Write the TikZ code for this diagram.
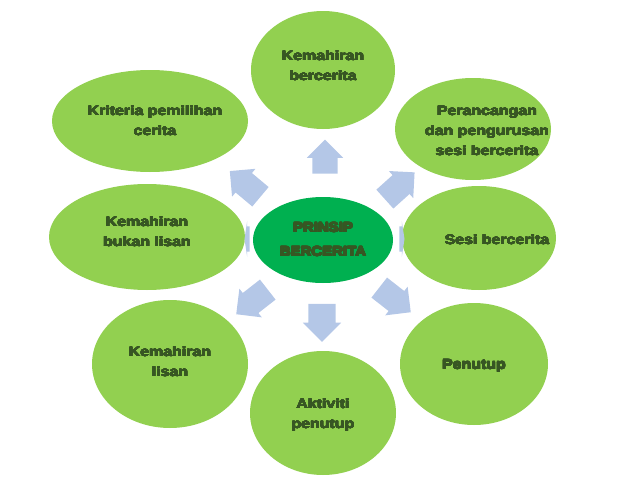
\documentclass[tikz,border=0pt]{standalone}
\usepackage{fontspec}
\setmainfont{Liberation Sans}[FakeStretch=1.18]
\newfontfamily\centerfont{Liberation Sans}[UprightFont={* Bold}, FakeStretch=1.11]
\usepackage[copies]{contour}
\usetikzlibrary{shapes.geometric,shapes.arrows}
\definecolor{lgreen}{HTML}{92D050}
\definecolor{cgreen}{HTML}{00B050}
\definecolor{tgreen}{HTML}{375623}
\definecolor{ablue}{HTML}{B4C7E7}
\newcommand\bt[1]{\contourlength{0.22pt}\contour{tgreen}{#1}}
\newcommand\heavytxt[1]{\contourlength{0.55pt}\contour{tgreen}{#1}}
\tikzset{
  bubble/.style={ellipse, fill=lgreen, draw=none, inner sep=0pt},
  txt/.style={text=tgreen, font=\fontsize{13.5}{20}\selectfont\bfseries, align=center, inner sep=0pt},
  blk/.style={single arrow, fill=ablue, draw=none, inner sep=0pt, text height=12.5pt, text depth=12.5pt, text width=0pt,
    single arrow head indent=0pt, single arrow head extend=5.5pt}
}
\begin{document}
\begin{tikzpicture}[x=1pt,y=-1pt]
\useasboundingbox (0,0) rectangle (638,479);
% bubbles
\node[bubble, minimum width=144, minimum height=118] (b1) at (323,70) {};
\node[bubble, minimum width=156, minimum height=102] (b2) at (473,129) {};
\node[bubble, minimum width=154, minimum height=104] (b3) at (479,238) {};
\node[bubble, minimum width=148, minimum height=122] (b4) at (474,364) {};
\node[bubble, minimum width=146, minimum height=124] (b5) at (323,413) {};
\node[bubble, minimum width=156, minimum height=128] (b6) at (170,364) {};
\node[bubble, minimum width=196, minimum height=106] (b7) at (147,237) {};
\node[bubble, minimum width=196, minimum height=102] (b8) at (150,121) {};
\node[ellipse, fill=cgreen, minimum width=140, minimum height=86, inner sep=0pt] (c) at (323,240) {};
% texts
\node[txt] (t1) at (323,66) {\bt{Kemahiran}\\\bt{bercerita}};
\node[txt] (t2) at (487,131) {\bt{Perancangan}\\\bt{dan pengurusan}\\\bt{sesi bercerita}};
\node[txt] (t3) at (497,240) {\bt{Sesi bercerita}};
\node[txt] (t4) at (474,366) {\bt{Penutup}};
\node[txt] (t5) at (323,415) {\bt{Aktiviti}\\\bt{penutup}};
\node[txt] (t6) at (170,362) {\bt{Kemahiran}\\\bt{lisan}};
\node[txt] (t7) at (147,232) {\bt{Kemahiran}\\\bt{bukan lisan}};
\node[txt] (t8) at (155,121) {\bt{Kriteria pemilihan}\\\bt{cerita}};
\node[text=tgreen, font=\centerfont\fontsize{13.5}{24}\selectfont, align=center, inner sep=0pt] (ct) at (323,240) {\heavytxt{PRINSIP}\\\heavytxt{BERCERITA}};
% arrows
\node[blk, minimum height=34, rotate=90] (a1) at (325,163) {};
\node[blk, minimum height=38, text height=13.5pt, text depth=13.5pt, rotate=-90] (a5) at (322,316) {};
\node[blk, minimum height=40, rotate=42] (a2) at (395,190) {};
\node[blk, minimum height=40, rotate=140] (a8) at (250,188) {};
\node[blk, minimum height=40, rotate=-38] (a4) at (390,296) {};
\node[blk, minimum height=40, rotate=-142] (a6) at (257,298) {};
\begin{scope}[shift={(401,239)}, xscale=0.15]
\node[blk, minimum height=34, transform shape] (a3) at (0,0) {};
\end{scope}
\begin{scope}[shift={(248,239)}, xscale=0.15]
\node[blk, minimum height=34, rotate=180, transform shape] (a7) at (0,0) {};
\end{scope}
\end{tikzpicture}
\end{document}
